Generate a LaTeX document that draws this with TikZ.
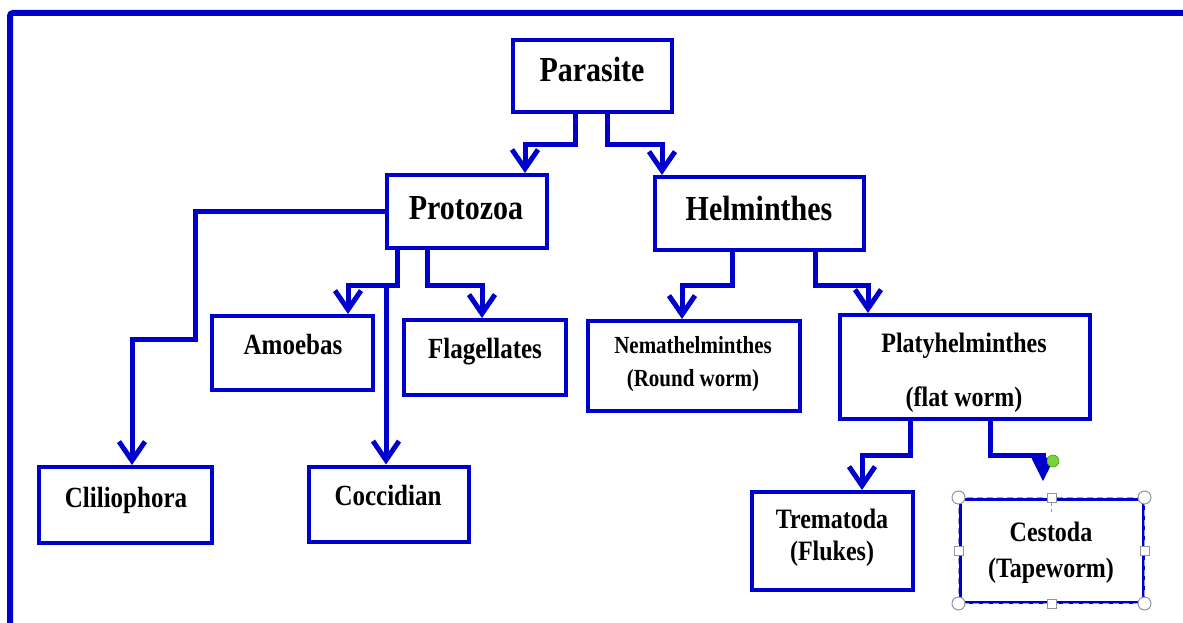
\documentclass[tikz,border=0pt]{standalone}
\usepackage{fontspec}
\setmainfont{Liberation Serif}
\usetikzlibrary{arrows.meta}
\definecolor{mblue}{RGB}{0,0,205}
\definecolor{hgray}{RGB}{140,150,165}
\definecolor{hgreen}{RGB}{120,210,60}
\newcommand{\lbl}[2]{{\fontsize{#1}{#1}\selectfont\bfseries\scalebox{1}[1.17]{#2}}}
\begin{document}
\begin{tikzpicture}[x=1pt,y=-1pt,
  box/.style={draw=mblue, line width=4pt, inner sep=0pt, fill=white},
  txt/.style={anchor=base, inner sep=0pt, text=black},
  conn/.style={draw=mblue, line width=5pt, -{Straight Barb[length=19pt,width=26pt]}},
  connf/.style={draw=mblue, line width=5pt, -{Triangle[length=24pt,width=22pt]}},
  hcirc/.style={circle, draw=hgray, fill=white, line width=1pt, minimum size=13pt, inner sep=0pt},
  hsq/.style={rectangle, draw=hgray, fill=white, line width=1pt, minimum size=9pt, inner sep=0pt}]
\useasboundingbox (0,0) rectangle (1183,623);
% frame
\draw[mblue, line width=6pt, rounded corners=3pt] (10,630) -- (10,13) -- (1190,13);
% boxes
\node[box, minimum width=159pt, minimum height=72pt] (parasite) at (592.5,76) {};
\node[box, minimum width=160pt, minimum height=73pt] (protozoa) at (467,211.5) {};
\node[box, minimum width=209pt, minimum height=73pt] (helminthes) at (759.5,213.5) {};
\node[box, minimum width=161pt, minimum height=74pt] (amoebas) at (292.5,353) {};
\node[box, minimum width=162pt, minimum height=75pt] (flagellates) at (485,357.5) {};
\node[box, minimum width=212pt, minimum height=90pt] (nemat) at (694,366) {};
\node[box, minimum width=250pt, minimum height=104pt] (platy) at (965,367) {};
\node[box, minimum width=173pt, minimum height=76pt] (cilio) at (125.5,505) {};
\node[box, minimum width=160pt, minimum height=75pt] (cocci) at (389,504) {};
\node[box, minimum width=161pt, minimum height=98pt] (trema) at (832.5,541) {};
\node[box, line width=3pt, minimum width=183pt, minimum height=103pt] (cesto) at (1051.5,550.5) {};
% texts
\node[txt] (tparasite) at (592,82) {\lbl{30}{Parasite}};
\node[txt] (tprotozoa) at (466,219) {\lbl{30}{Protozoa}};
\node[txt] (thelmin) at (759,220) {\lbl{30}{Helminthes}};
\node[txt] (tamoebas) at (293,354) {\lbl{25}{Amoebas}};
\node[txt] (tflag) at (485,358) {\lbl{25}{Flagellates}};
\node[txt] (tnemat1) at (693,353) {\lbl{21}{Nemathelminthes}};
\node[txt] (tnemat2) at (693,386) {\lbl{21}{(Round worm)}};
\node[txt] (tplaty1) at (964,352) {\lbl{24}{Platyhelminthes}};
\node[txt] (tplaty2) at (964,406) {\lbl{24}{(flat worm)}};
\node[txt] (tcilio) at (126,507) {\lbl{25}{Cliliophora}};
\node[txt] (tcocci) at (388,505) {\lbl{25}{Coccidian}};
\node[txt] (ttrema1) at (832,528) {\lbl{24}{Trematoda}};
\node[txt] (ttrema2) at (832,560) {\lbl{24}{(Flukes)}};
\node[txt] (tcesto1) at (1051,541) {\lbl{24}{Cestoda}};
\node[txt] (tcesto2) at (1051,577) {\lbl{24}{(Tapeworm)}};
% connectors
\draw[conn] ([xshift=-17.5pt]parasite.south) -- ++(0,31) -| ([xshift=58pt]protozoa.north);
\draw[conn] ([xshift=14.5pt]parasite.south) -- ++(0,31) -| ([xshift=-97.5pt]helminthes.north);
\draw[conn] (protozoa.west) -- ++(-190,0) -- ++(0,128) -| ([xshift=6.5pt]cilio.north);
\draw[conn] ([xshift=-70pt]protozoa.south) -- ++(0,35) coordinate (j1) -| ([xshift=55.5pt]amoebas.north);
\draw[conn] (j1 -| cocci.north) ++(-3,0) coordinate (j2) -- (j2 |- cocci.north);
\draw[conn] ([xshift=-40pt]protozoa.south) -- ++(0,35) -| ([xshift=-3pt]flagellates.north);
\draw[conn] ([xshift=-27.5pt]helminthes.south) -- ++(0,33) -| ([xshift=-12pt]nemat.north);
\draw[conn] ([xshift=55.5pt]helminthes.south) -- ++(0,33) -| ([xshift=-97pt]platy.north);
\draw[conn] ([xshift=-55pt]platy.south) -- ++(0,34) -| ([xshift=29.5pt]trema.north);
\draw[connf] ([xshift=25pt]platy.south) -- ++(0,34) -| ([xshift=-8.5pt,yshift=16pt]cesto.north) coordinate (ctip);
% selection decoration on Cestoda
\draw[draw=hgray!60!blue!60, line width=1.2pt, dash pattern=on 6pt off 4pt] (cesto.north west) rectangle (cesto.south east);
\draw[dashed, hgray, line width=0.8pt] ([yshift=-14pt]cesto.north) -- ([yshift=-4pt]cesto.north);
\node[hcirc] (hnw) at (cesto.north west) {};
\node[hcirc] (hne) at (cesto.north east) {};
\node[hcirc] (hsw) at (cesto.south west) {};
\node[hcirc] (hse) at (cesto.south east) {};
\node[hsq] (hn) at (cesto.north) {};
\node[hsq] (hs) at (cesto.south) {};
\node[hsq] (hw) at (cesto.west) {};
\node[hsq] (he) at (cesto.east) {};
\node[circle, fill=hgreen, draw=hgreen!70!black, line width=0.6pt, minimum size=12pt, inner sep=0pt] (rot) at (1053,461) {};
\end{tikzpicture}
\end{document}
